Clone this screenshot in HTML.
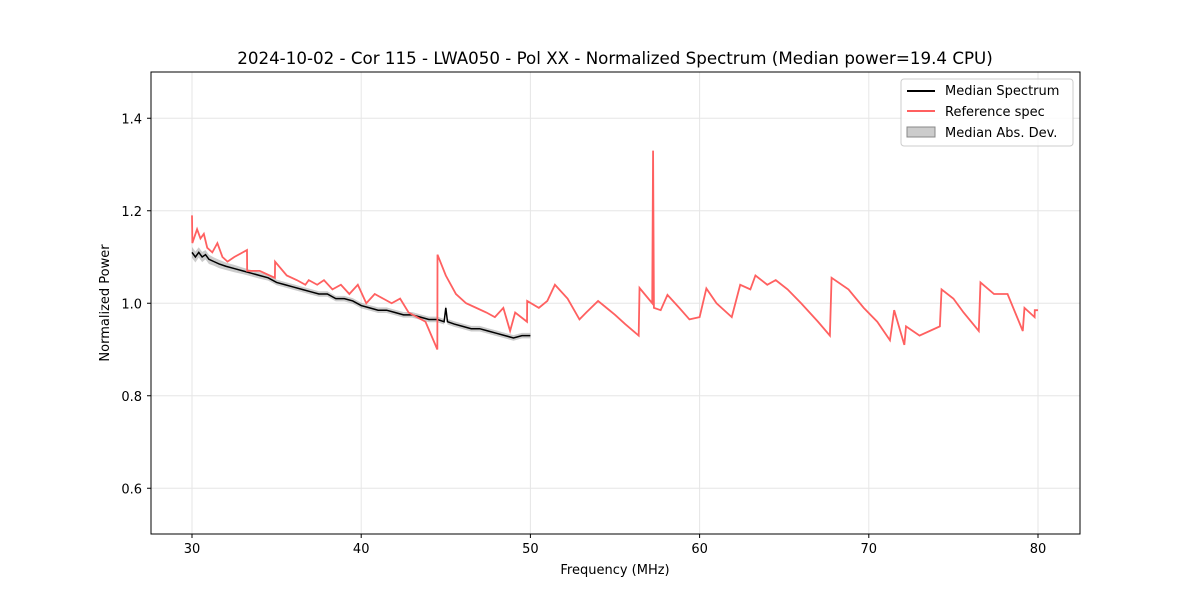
<!DOCTYPE html>
<html><head><meta charset="utf-8"><style>
body{margin:0;background:#fff;font-family:"Liberation Sans","DejaVu Sans",sans-serif}
</style></head><body>
<svg id="chart" width="1200" height="600" xmlns="http://www.w3.org/2000/svg" font-family="DejaVu Sans, Liberation Sans, sans-serif">
<rect width="1200" height="600" fill="#fff"/>
<text x="615" y="64" text-anchor="middle" font-size="16.7">2024-10-02 - Cor 115 - LWA050 - Pol XX - Normalized Spectrum (Median power=19.4 CPU)</text>
<g id="grid"></g><g id="marks"></g>
<rect x="151" y="72" width="929" height="462" fill="none" stroke="#000" stroke-width="1"/>
<g id="ticks" font-size="13"></g>
<text x="615" y="574" text-anchor="middle" font-size="13">Frequency (MHz)</text>
<text transform="translate(109,303) rotate(-90)" text-anchor="middle" font-size="13">Normalized Power</text>
<g>
<rect x="901" y="79" width="172" height="67" rx="3" fill="#fff" fill-opacity="0.8" stroke="#ccc"/>
<line x1="907" y1="91" x2="935" y2="91" stroke="#000" stroke-width="2"/>
<text x="945" y="95" font-size="13">Median Spectrum</text>
<line x1="907" y1="111" x2="935" y2="111" stroke="#ff6060" stroke-width="2"/>
<text x="945" y="116" font-size="13">Reference spec</text>
<rect x="907" y="127" width="28" height="10" fill="#000" fill-opacity="0.2" stroke="#888"/>
<text x="945" y="137" font-size="13">Median Abs. Dev.</text>
</g>
</svg>
<script>
const xTicks=[30,40,50,60,70,80];
const yTicks=[0.6,0.8,1.0,1.2,1.4];
const refFreq=[30.0,30.02,30.3,30.5,30.7,30.9,31.2,31.5,31.8,32.1,32.5,33.0,33.25,33.26,34.0,34.9,34.91,35.6,36.2,36.7,36.9,37.4,37.8,38.3,38.8,39.3,39.8,40.3,40.8,41.3,41.8,42.3,42.8,43.3,43.8,44.5,44.51,45.0,45.6,46.2,46.8,47.4,47.9,48.4,48.8,49.1,49.8,49.81,50.5,51.0,51.45,52.2,52.9,53.3,54.0,54.5,55.0,55.6,56.4,56.45,57.2,57.25,57.3,57.7,58.1,58.8,59.4,60.0,60.4,61.0,61.9,62.4,63.0,63.3,64.0,64.5,65.2,66.0,67.0,67.7,67.8,68.8,69.7,70.5,71.25,71.5,72.1,72.2,73.0,74.2,74.3,75.0,75.6,76.5,76.6,77.4,78.2,79.1,79.2,79.8,79.81,80.0];
const refVal=[1.19,1.13,1.16,1.14,1.15,1.12,1.11,1.13,1.10,1.09,1.10,1.11,1.115,1.07,1.07,1.055,1.09,1.06,1.05,1.04,1.05,1.04,1.05,1.03,1.04,1.02,1.04,1.00,1.02,1.01,1.00,1.01,0.98,0.97,0.96,0.90,1.105,1.06,1.02,1.00,0.99,0.98,0.97,0.99,0.94,0.98,0.96,1.005,0.99,1.005,1.04,1.01,0.965,0.98,1.005,0.99,0.975,0.955,0.93,1.033,1.00,1.33,0.99,0.985,1.018,0.99,0.965,0.97,1.032,1.00,0.97,1.04,1.03,1.06,1.04,1.05,1.03,1.00,0.96,0.93,1.055,1.03,0.99,0.96,0.92,0.985,0.91,0.95,0.93,0.95,1.03,1.01,0.98,0.94,1.045,1.02,1.02,0.94,0.99,0.97,0.985,0.985];
const medFreq=[30.0,30.2,30.4,30.6,30.8,31.0,31.3,31.6,32.0,32.5,33.0,33.5,34.0,34.5,35.0,35.5,36.0,36.5,37.0,37.5,38.0,38.5,39.0,39.5,40.0,40.5,41.0,41.5,42.0,42.5,43.0,43.5,44.0,44.5,44.9,45.0,45.1,45.5,46.0,46.5,47.0,47.5,48.0,48.5,49.0,49.5,50.0];
const medVal=[1.11,1.10,1.11,1.10,1.105,1.095,1.09,1.085,1.08,1.075,1.07,1.065,1.06,1.055,1.045,1.04,1.035,1.03,1.025,1.02,1.02,1.01,1.01,1.005,0.995,0.99,0.985,0.985,0.98,0.975,0.975,0.97,0.965,0.965,0.96,0.99,0.96,0.955,0.95,0.945,0.945,0.94,0.935,0.93,0.925,0.93,0.93];
const madVal=[0.012,0.012,0.011,0.011,0.010,0.010,0.009,0.009,0.008,0.008,0.007,0.007,0.007,0.006,0.006,0.006,0.006,0.006,0.006,0.006,0.006,0.006,0.006,0.006,0.006,0.006,0.006,0.006,0.006,0.006,0.006,0.006,0.006,0.006,0.006,0.006,0.006,0.006,0.006,0.006,0.006,0.006,0.006,0.006,0.006,0.006,0.006];
const X=f=>192+(f-30)*16.92;
const Y=v=>72+(1.5-v)*462.5;
const NS='http://www.w3.org/2000/svg';
const mk=(t,a,p)=>{const e=document.createElementNS(NS,t);for(const k in a)e.setAttribute(k,a[k]);p.appendChild(e);return e;};
const grid=document.getElementById('grid'),ticks=document.getElementById('ticks'),marks=document.getElementById('marks');
xTicks.forEach(t=>{const x=X(t);
mk('line',{x1:x,y1:72,x2:x,y2:534,stroke:'#e6e6e6'},grid);
mk('line',{x1:x,y1:534,x2:x,y2:538,stroke:'#000'},ticks);
const tx=mk('text',{x:x,y:553,'text-anchor':'middle'},ticks);tx.textContent=t;

});
yTicks.forEach(t=>{const y=Y(t);
mk('line',{x1:151,y1:y,x2:1080,y2:y,stroke:'#e6e6e6'},grid);
mk('line',{x1:147,y1:y,x2:151,y2:y,stroke:'#000'},ticks);
const tx=mk('text',{x:142,y:y+5,'text-anchor':'end'},ticks);tx.textContent=t.toFixed(1);

});
let up=medFreq.map((f,i)=>X(f)+','+Y(medVal[i]+madVal[i]));
let dn=medFreq.map((f,i)=>X(f)+','+Y(medVal[i]-madVal[i])).reverse();
const band=mk('polygon',{points:up.concat(dn).join(' '),fill:'#000','fill-opacity':0.2},marks);


const med=mk('polyline',{points:medFreq.map((f,i)=>X(f)+','+Y(medVal[i])).join(' '),fill:'none',stroke:'#000','stroke-width':1.5},marks);


const ref=mk('polyline',{points:refFreq.map((f,i)=>X(f)+','+Y(refVal[i])).join(' '),fill:'none',stroke:'#ff6060','stroke-width':1.8},marks);


</script>
</body></html>
